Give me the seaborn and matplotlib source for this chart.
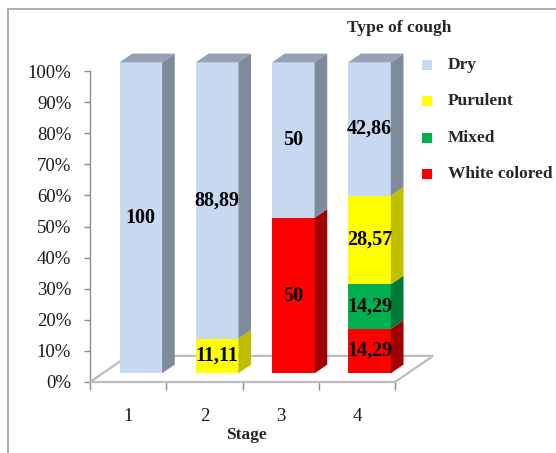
import matplotlib
matplotlib.use("Agg")
import matplotlib.pyplot as plt
from matplotlib.transforms import ScaledTranslation
from matplotlib.patches import Rectangle, Polygon
import numpy as np
import pandas as pd
import seaborn as sns

# ---- data -------------------------------------------------------------
stages = ["1", "2", "3", "4"]
# stacking order, bottom to top
cough_types = ["White colored", "Mixed", "Purulent", "Dry"]
white_colored = [0, 0, 50, 14.29]
mixed = [0, 0, 0, 14.29]
purulent = [0, 11.11, 0, 28.57]
dry = [100, 88.89, 50, 42.86]
legend_order = ["Dry", "Purulent", "Mixed", "White colored"]
y_ticks = list(range(0, 101, 10))
y_tick_labels = [f"{t}%" for t in y_ticks]

front_colors = {"Dry": "#C6D9F1", "Purulent": "#FFFF00",
                "Mixed": "#00B050", "White colored": "#FF0000"}
side_colors = {"Dry": "#7E8B9D", "Purulent": "#BFBF00",
               "Mixed": "#007A3A", "White colored": "#A00000"}
top_colors = {"Dry": "#93A2B6", "Purulent": "#DADA00",
              "Mixed": "#009446", "White colored": "#D00000"}

# ---- style ------------------------------------------------------------
sns.set_style("white")
plt.rcParams["font.family"] = ["Liberation Serif", "DejaVu Serif"]

W, H, DPI = 556, 453, 100
fig = plt.figure(figsize=(W / DPI, H / DPI), dpi=DPI)
# front plane of the 3-D box: x 90..395 px, 0% at 382 px, 100% at 71 px
ax = fig.add_axes([90 / W, (H - 382) / H, 305 / W, 311 / H])
ax.set_xlim(-0.5, 3.5)
ax.set_ylim(0, 100)

df = pd.DataFrame({"stage": stages, "White colored": white_colored,
                   "Mixed": mixed, "Purulent": purulent, "Dry": dry})
tops = df[cough_types].cumsum(axis=1)
bottoms = tops - df[cough_types]

bar_w = 0.557
# depth step of the bars (one third of the floor depth), in pixels
step_px = (12.7, 8.7)
px_per_x = 305 / 4.0
px_per_y = 311 / 100.0
ddx = step_px[0] / px_per_x
ddy = step_px[1] / px_per_y

# front faces: cumulative heights drawn from the tallest layer down
for t in reversed(cough_types):
    sns.barplot(x=df["stage"], y=tops[t], color=front_colors[t],
                width=bar_w, saturation=1, errorbar=None,
                linewidth=0, ax=ax, zorder=3)

shift = ax.transData + ScaledTranslation(step_px[0] / DPI, step_px[1] / DPI,
                                         fig.dpi_scale_trans)
for p in ax.patches:
    p.set_transform(shift)
    p.set_clip_on(False)

# side faces and top faces
for i in range(len(stages)):
    xl = i - bar_w / 2 + ddx
    xr = i + bar_w / 2 + ddx
    top_type = None
    for t in cough_types:
        v = df.loc[i, t]
        if v <= 0:
            continue
        y0 = bottoms.loc[i, t] + ddy
        y1 = tops.loc[i, t] + ddy
        ax.add_patch(Polygon([(xr, y0), (xr, y1), (xr + ddx, y1 + ddy),
                              (xr + ddx, y0 + ddy)], closed=True,
                             fc=side_colors[t], ec="none", zorder=3,
                             clip_on=False))
        top_type = t
    ytop = tops.loc[i, top_type] + ddy
    ax.add_patch(Polygon([(xl, ytop), (xr, ytop), (xr + ddx, ytop + ddy),
                          (xl + ddx, ytop + ddy)], closed=True,
                         fc=top_colors[top_type], ec="none", zorder=3,
                         clip_on=False))

# floor outline
floor_c = "#BDBDBD"
fx0, fx1 = -0.5, 3.5
ax.plot([fx0, fx0 + 3 * ddx, fx1 + 3 * ddx, fx1],
        [0, 3 * ddy, 3 * ddy, 0], color=floor_c, lw=1.6, zorder=1,
        clip_on=False, solid_joinstyle="miter")

# value labels
def fmt(v):
    if float(v).is_integer():
        return str(int(v))
    return f"{v:.2f}".replace(".", ",")

for i in range(len(stages)):
    for t in cough_types:
        v = df.loc[i, t]
        if v <= 0:
            continue
        yc = bottoms.loc[i, t] + v / 2
        ax.text(i, yc, fmt(v), transform=shift, ha="center", va="center",
                fontsize=14.5, fontweight="bold", color="black", zorder=5)

# axes styling
for s in ["top", "right"]:
    ax.spines[s].set_visible(False)
ax.spines["left"].set_color("#8C8C8C")
ax.spines["left"].set_linewidth(1.0)
ax.spines["bottom"].set_color(floor_c)
ax.spines["bottom"].set_linewidth(1.6)
ax.spines["left"].set_zorder(2)
ax.spines["bottom"].set_zorder(2)

ax.set_yticks(y_ticks)
ax.set_yticklabels(y_tick_labels)
ax.tick_params(axis="y", length=4, width=1, color="#8C8C8C", pad=9.5,
               labelsize=13.5, labelcolor="#1A1A1A", left=True)
ax.set_xticks([-0.5, 0.5, 1.5, 2.5, 3.5])
ax.set_xticklabels([])
ax.set_xticks(range(len(stages)), minor=True)
ax.set_xticklabels(stages, minor=True)
ax.tick_params(axis="x", which="major", length=6, width=1, color="#8C8C8C",
               bottom=True)
ax.tick_params(axis="x", which="minor", length=0, pad=19, labelsize=13.5,
               labelcolor="#1A1A1A")
ax.set_xlabel("")
ax.set_ylabel("")
ax.patch.set_alpha(0)

fig.text(246 / W, 1 - 435 / H, "Stage", ha="center", va="center",
         fontsize=12.5, fontweight="bold")

# legend
fig.text(347 / W, 1 - 28 / H, "Type of cough", ha="left", va="center",
         fontsize=12.5, fontweight="bold")
for k, t in enumerate(legend_order):
    yc = 65 + k * 36.4
    fig.patches.append(Rectangle(((427 - 5) / W, 1 - (yc + 5) / H),
                                 10 / W, 10 / H, transform=fig.transFigure,
                                 fc=front_colors[t], ec="none"))
    fig.text(448 / W, 1 - yc / H, t, ha="left", va="center",
             fontsize=12.5, fontweight="bold")

# outer chart frame
fig.patches.append(Rectangle((8 / W, -0.1), 1.2, 1.1 - 9 / H,
                             transform=fig.transFigure, fill=False,
                             ec="#A6A6A6", lw=1.3))

fig.savefig("out.png", dpi=DPI)
